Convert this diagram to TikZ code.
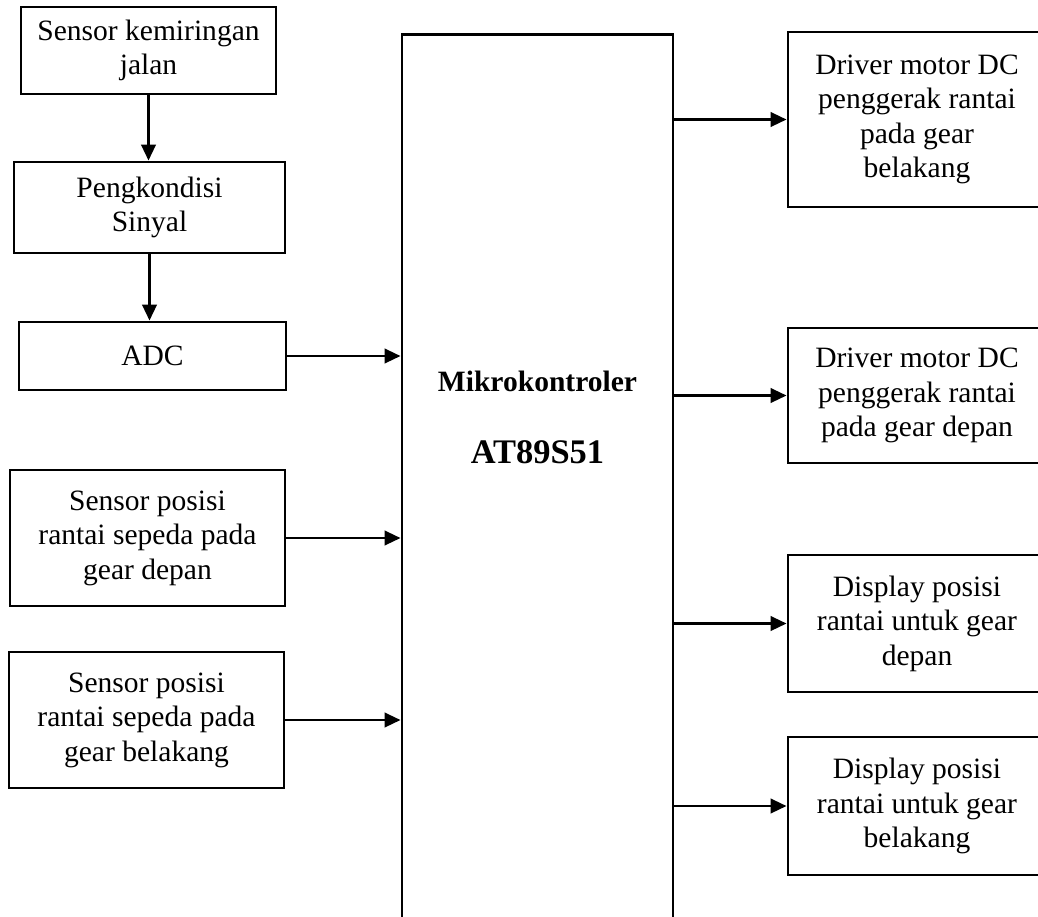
\documentclass[tikz,border=0pt]{standalone}
\usepackage{fontspec}
\setmainfont{Liberation Serif}
\usetikzlibrary{positioning}
\usetikzlibrary{arrows.meta}

\begin{document}
\begin{tikzpicture}[x=0.025cm, y=-0.025cm, line width=2pt, font=\fontsize{21}{24.5}\selectfont,
  main/.style = {draw, rectangle, align=center, inner sep=0pt},
  arr/.style = {-{Triangle[length=4mm, width=3.6mm]}}]
\useasboundingbox (0,0) rectangle (1038,916);
\clip (0,0) rectangle (1038,916);
% input side
\node[main, minimum width=6.375cm, minimum height=2.175cm] (sensor) at (148.5,50.5) {Sensor kemiringan\\jalan};
\node[main, minimum width=6.775cm, minimum height=2.275cm] (kondisi) at (149.5,207.5) {Pengkondisi\\Sinyal};
\node[main, minimum width=6.675cm, minimum height=1.7cm] (adc) at (152.5,356) {ADC};
\node[main, minimum width=6.875cm, minimum height=3.4cm] (posdepan) at (147.5,538) {Sensor posisi\\rantai sepeda pada\\gear depan};
\node[main, minimum width=6.875cm, minimum height=3.4cm] (posbelakang) at (146.5,720) {Sensor posisi\\rantai sepeda pada\\gear belakang};
% mikrokontroler
\node[main, minimum width=6.775cm, minimum height=23.125cm] (mikro) at (537.5,497.5) {};
\node (mk) at (537.5,381) {\bfseries Mikrokontroler};
\node (at) at (537.5,452) {\fontsize{24.5}{28}\selectfont\bfseries AT89S51};
% output side
\node[main, minimum width=6.45cm, minimum height=4.375cm] (drvbelakang) at (917,119.5) {Driver motor DC\\penggerak rantai\\pada gear\\belakang};
\node[main, minimum width=6.45cm, minimum height=3.375cm] (drvdepan) at (917,395.5) {Driver motor DC\\penggerak rantai\\pada gear depan};
\node[main, minimum width=6.45cm, minimum height=3.425cm] (dispdepan) at (917,623.5) {Display posisi\\rantai untuk gear\\depan};
\node[main, minimum width=6.45cm, minimum height=3.45cm] (dispbelakang) at (917,806) {Display posisi\\rantai untuk gear\\belakang};
\draw[arr] (sensor.south) -- (sensor.south |- kondisi.north);
\draw[arr] (kondisi.south) -- (kondisi.south |- adc.north);
\draw[arr] (adc.east) -- (adc.east -| mikro.west);
\draw[arr] (posdepan.east) -- (posdepan.east -| mikro.west);
\draw[arr] (posbelakang.east) -- (posbelakang.east -| mikro.west);
\draw[arr] (drvbelakang.west -| mikro.east) -- (drvbelakang.west);
\draw[arr] (drvdepan.west -| mikro.east) -- (drvdepan.west);
\draw[arr] (dispdepan.west -| mikro.east) -- (dispdepan.west);
\draw[arr] (dispbelakang.west -| mikro.east) -- (dispbelakang.west);
\end{tikzpicture}
\end{document}
